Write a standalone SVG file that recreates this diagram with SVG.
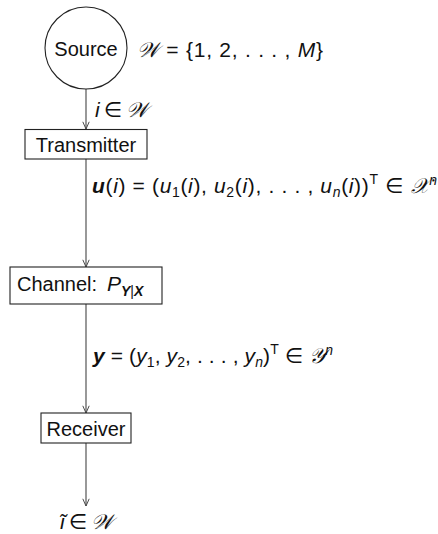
<svg xmlns="http://www.w3.org/2000/svg" width="438" height="534" viewBox="0 0 438 534">
<style>
.box{fill:#fff;stroke:#222;stroke-width:1.1}
.lbl{font-family:"Liberation Sans","DejaVu Sans",sans-serif;font-size:20px;fill:#111}
.m{font-family:"Liberation Sans","DejaVu Sans",sans-serif;font-size:21px;fill:#111}
.it{font-style:italic}
.bi{font-style:italic;font-weight:bold}
.sc{font-family:"DejaVu Serif","Liberation Serif",serif;font-style:italic}
.sub{font-size:14px}
.edge{stroke:#444;stroke-width:1.1;fill:none;marker-end:url(#ah)}
</style>
<defs>
<marker id="ah" viewBox="0 0 10 10" refX="10" refY="5" markerWidth="8" markerHeight="8" markerUnits="userSpaceOnUse" orient="auto">
<path d="M1,1 L10,5 L1,9" fill="none" stroke="#444" stroke-width="1.2"/>
</marker>
</defs>
<g id="connectors">
<line class="edge" x1="86" y1="89" x2="86" y2="129"/>
<line class="edge" x1="86" y1="159" x2="86" y2="267"/>
<line class="edge" x1="86" y1="304" x2="86" y2="413"/>
<line class="edge" x1="86" y1="443" x2="86" y2="506"/>
</g>
<g id="source">
<circle cx="86" cy="48" r="41" class="box"/>
<text x="86" y="56" class="lbl" text-anchor="middle">Source</text>
</g>
<g id="transmitter">
<rect x="25" y="129.5" width="122" height="29.5" class="box"/>
<text x="86" y="152" class="lbl" text-anchor="middle">Transmitter</text>
</g>
<g id="channel">
<rect x="10" y="267" width="152" height="37" class="box"/>
<text x="17" y="291" class="lbl">Channel:</text>
<text x="107" y="291" class="m"><tspan class="it">P</tspan><tspan class="bi sub" dy="5">Y</tspan><tspan class="sub">|</tspan><tspan class="bi sub">X</tspan></text>
</g>
<g id="receiver">
<rect x="41" y="413" width="90" height="30" class="box"/>
<text x="86" y="436" class="lbl" text-anchor="middle">Receiver</text>
</g>
<g id="labels">
<text x="137" y="57" class="m" textLength="186"><tspan class="sc">𝒲</tspan> = {1, 2, . . . , <tspan class="it">M</tspan>}</text>
<text x="95" y="117" class="m" textLength="53"><tspan class="it">i</tspan> ∈ <tspan class="sc">𝒲</tspan></text>
<text x="92" y="193" class="m" textLength="345"><tspan class="bi">u</tspan>(<tspan class="it">i</tspan>) = (<tspan class="it">u</tspan><tspan class="sub" dy="4">1</tspan><tspan dy="-4">(</tspan><tspan class="it">i</tspan>), <tspan class="it">u</tspan><tspan class="sub" dy="4">2</tspan><tspan dy="-4">(</tspan><tspan class="it">i</tspan>), . . . , <tspan class="it">u</tspan><tspan class="sub it" dy="4">n</tspan><tspan dy="-4">(</tspan><tspan class="it">i</tspan>))<tspan class="sub" dy="-9">T</tspan><tspan dy="9"> ∈ </tspan><tspan class="sc">𝒳</tspan><tspan class="sub it" dy="-8">n</tspan></text>
<text x="93" y="363" class="m" textLength="240"><tspan class="bi">y</tspan> = (<tspan class="it">y</tspan><tspan class="sub" dy="4">1</tspan><tspan dy="-4">, </tspan><tspan class="it">y</tspan><tspan class="sub" dy="4">2</tspan><tspan dy="-4">, . . . , </tspan><tspan class="it">y</tspan><tspan class="sub it" dy="4">n</tspan><tspan dy="-4">)</tspan><tspan class="sub" dy="-9">T</tspan><tspan dy="9"> ∈ </tspan><tspan class="sc">𝒴</tspan><tspan class="sub it" dy="-8">n</tspan></text>
<text x="60" y="529" class="m" textLength="53"><tspan class="it">ĩ</tspan> ∈ <tspan class="sc">𝒲</tspan></text>
</g>
</svg>
